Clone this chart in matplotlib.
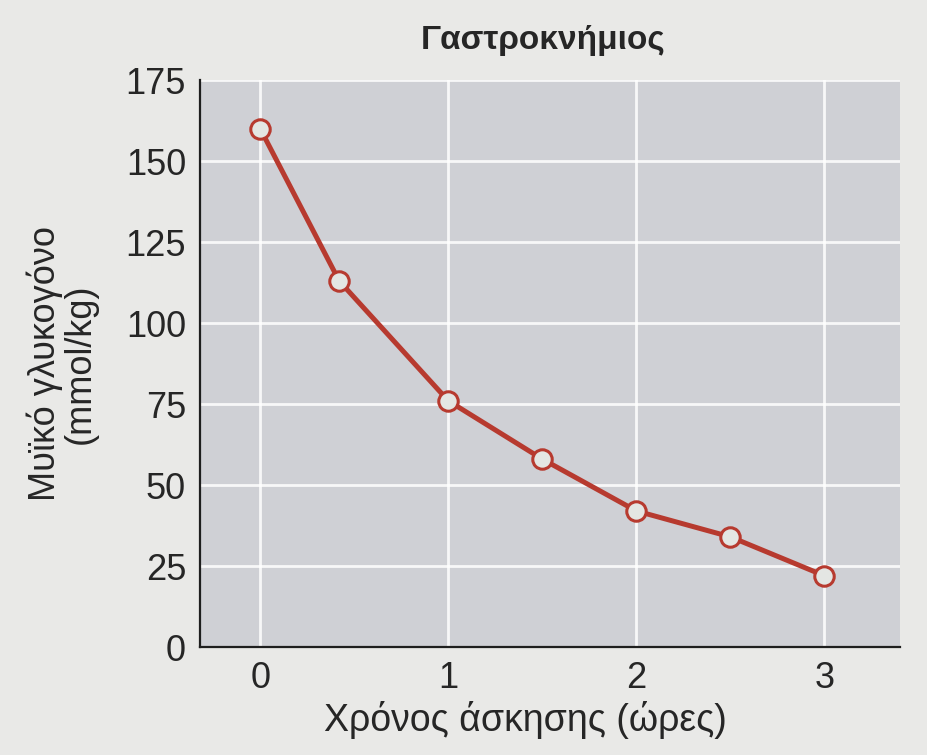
import matplotlib.pyplot as plt

# ─── data ─────────────────────────────────────────────────────────────────────
hours = [0, 0.42, 1, 1.5, 2, 2.5, 3]
glycogen = [160, 113, 76, 58, 42, 34, 22]
x_ticks = [0, 1, 2, 3]
y_ticks = [0, 25, 50, 75, 100, 125, 150, 175]

title = "Γαστροκνήμιος"
x_label = "Χρόνος άσκησης (ώρες)"
y_label = "Μυϊκό γλυκογόνο\n(mmol/kg)"

# ─── style ────────────────────────────────────────────────────────────────────
plt.rcParams["font.family"] = ["Liberation Sans", "DejaVu Sans"]
paper = "#e9e9e7"
panel = "#cfd0d5"
red = "#b73a2f"
ink = "#262626"

fig = plt.figure(figsize=(9.28, 7.55), dpi=100, facecolor=paper)
ax = fig.add_axes([0.2155, 0.143, 0.754, 0.751])
ax.set_facecolor(panel)

ax.grid(True, color="white", linewidth=2.0, alpha=0.85)
ax.set_axisbelow(True)

ax.plot(
    hours, glycogen,
    color=red, linewidth=3.6,
    marker="o", markersize=14,
    markerfacecolor="#e4e6e3", markeredgecolor=red, markeredgewidth=2.2,
    zorder=3,
)

ax.set_xlim(-0.32, 3.40)
ax.set_ylim(0, 175)
ax.set_xticks(x_ticks)
ax.set_yticks(y_ticks)
ax.tick_params(length=0, labelsize=26, colors=ink, pad=10)

for side in ("top", "right"):
    ax.spines[side].set_visible(False)
for side in ("left", "bottom"):
    ax.spines[side].set_color("#1e1e1e")
    ax.spines[side].set_linewidth(1.6)

ax.set_title(title, fontsize=24, fontweight="bold", color=ink, pad=22, x=0.49)
ax.set_xlabel(x_label, fontsize=27, color=ink, labelpad=4)
ax.xaxis.label.set_x(0.465)
ax.set_ylabel(y_label, fontsize=26, color=ink, labelpad=20, linespacing=1.0)

fig.savefig("out.png", dpi=100, facecolor=paper)
